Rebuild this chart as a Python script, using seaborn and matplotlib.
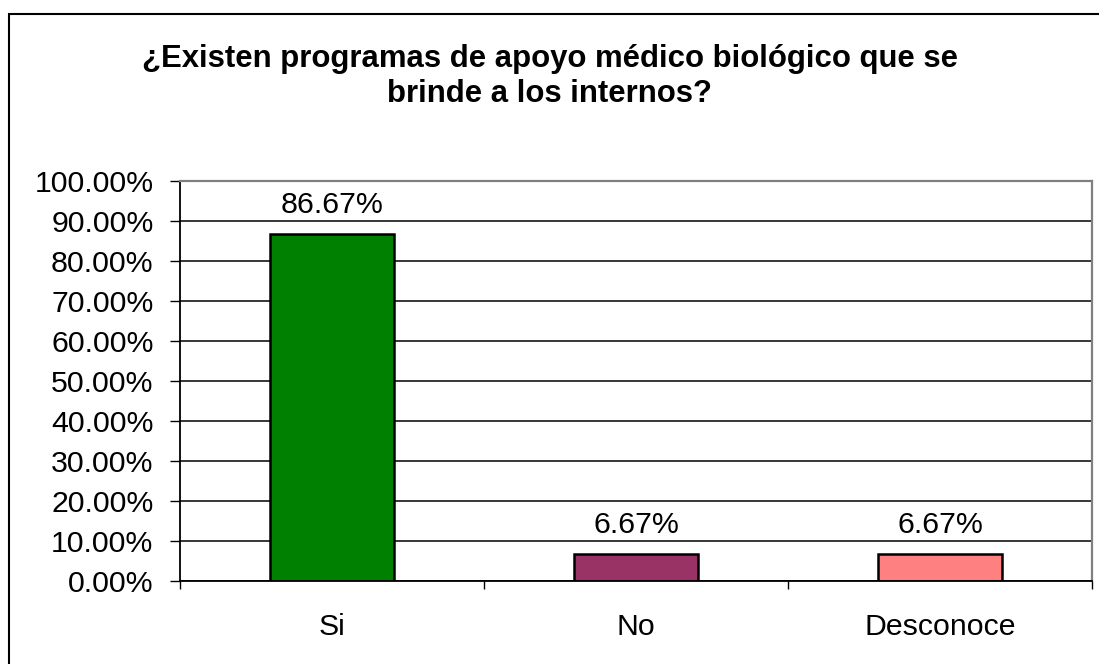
import matplotlib
matplotlib.use("Agg")
import matplotlib.pyplot as plt
import matplotlib.patches as mpatches
from matplotlib.ticker import FixedLocator, FuncFormatter, MultipleLocator
import seaborn as sns
import pandas as pd

categories = ["Si", "No", "Desconoce"]
values = [86.67, 6.67, 6.67]
bar_colors = ["#008000", "#993366", "#FF8080"]
title_text = "¿Existen programas de apoyo médico biológico que se\nbrinde a los internos?"

sns.set_style("white")
plt.rcParams["font.family"] = ["Liberation Sans", "DejaVu Sans"]
plt.rcParams["text.color"] = "black"
plt.rcParams["xtick.color"] = "black"
plt.rcParams["ytick.color"] = "black"
plt.rcParams["xtick.labelcolor"] = "black"
plt.rcParams["ytick.labelcolor"] = "black"

W, H = 1099, 664
fig = plt.figure(figsize=(W / 100, H / 100), dpi=100)
fig.patch.set_facecolor("white")

left, right, top, bottom = 180, 1092, 181, 581
ax = fig.add_axes([left / W, 1 - bottom / H, (right - left) / W, (bottom - top) / H])

df = pd.DataFrame({"cat": categories, "val": values})
sns.barplot(data=df, x="cat", y="val", hue="cat", palette=bar_colors, width=0.405,
            edgecolor="black", linewidth=1.8, legend=False, ax=ax, saturation=1)

ax.set_xlim(-0.5, len(categories) - 0.5)
ax.set_ylim(0, 100)
ax.yaxis.set_major_locator(MultipleLocator(10))
ax.yaxis.set_major_formatter(FuncFormatter(lambda v, p: f"{v:.2f}%"))
ax.set_xlabel("")
ax.set_ylabel("")

fs = 21.8
ax.tick_params(axis="y", which="major", direction="out", length=7, width=1.0,
               color="black", labelcolor="black", labelsize=fs, pad=12, left=True)
ax.tick_params(axis="x", which="major", length=0, labelsize=fs, labelcolor="black", pad=23)
ax.xaxis.set_minor_locator(FixedLocator([-0.5, 0.5, 1.5, 2.5]))
ax.tick_params(axis="x", which="minor", direction="out", length=6, width=1.0,
               color="black", bottom=True)

ax.set_axisbelow(True)
ax.yaxis.grid(True, color="black", linewidth=1.1)
ax.xaxis.grid(False)

for s in ["top", "right"]:
    ax.spines[s].set_color("#808080")
    ax.spines[s].set_linewidth(1.6)
    ax.spines[s].set_zorder(5)
for s in ["left", "bottom"]:
    ax.spines[s].set_color("black")
    ax.spines[s].set_linewidth(1.3)
    ax.spines[s].set_zorder(5)

for i, v in enumerate(values):
    ax.annotate(f"{v:.2f}%", xy=(i, v), xytext=(0, 15), textcoords="offset points",
                ha="center", va="baseline", fontsize=fs, color="black")

fig.text(0.5, 1 - 44 / H, title_text, ha="center", va="top", fontsize=22.4,
         fontweight="bold", linespacing=1.2, color="black")

frame = mpatches.Rectangle((8.5 / W, -0.5), 2.0, 1.5 - 13.5 / H, transform=fig.transFigure,
                           fill=False, edgecolor="black", linewidth=1.5, clip_on=False)
fig.patches.append(frame)

fig.savefig("out.png", dpi=100, facecolor="white")
